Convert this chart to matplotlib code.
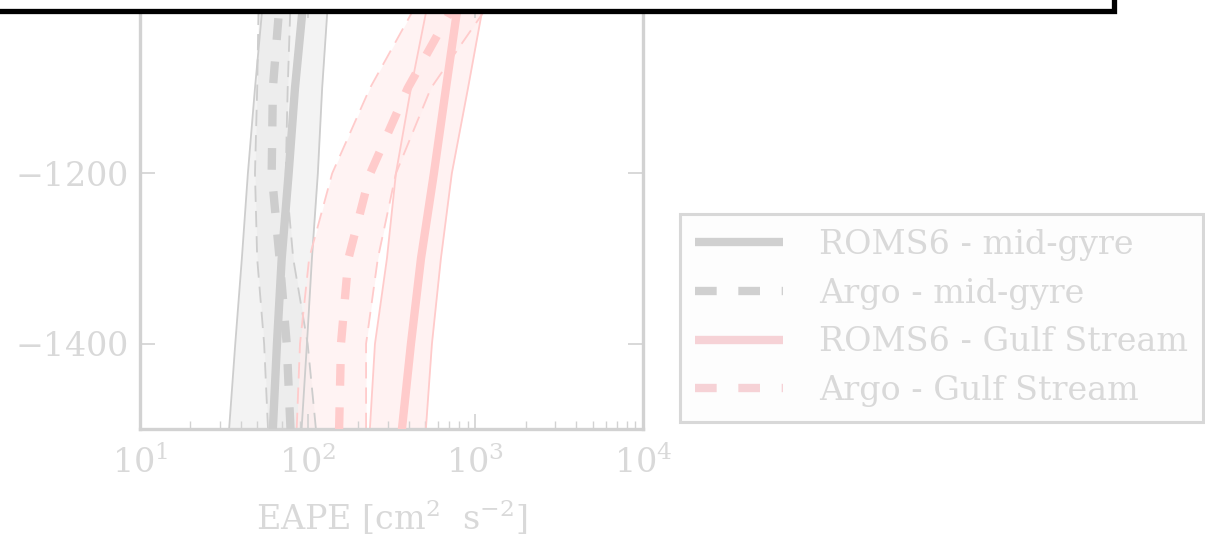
import numpy as np
import matplotlib
matplotlib.use("Agg")
import matplotlib.pyplot as plt
from matplotlib.patches import Rectangle

plt.rcParams['font.family'] = ['DejaVu Serif']
plt.rcParams['mathtext.fontset'] = 'dejavuserif'

# depth levels [m]
depth = [-1500, -1400, -1300, -1200, -1100, -1000]

# mid-gyre
roms_mg = [62, 65.6, 70, 77, 84, 94]
roms_mg_lo = [34, 37, 40.5, 44, 48.5, 54]
roms_mg_hi = [92, 99, 106, 115, 122, 132]
argo_mg = [79, 75, 68, 61, 62, 68]
argo_mg_lo = [58, 55, 50, 48.5, 50, 51]
argo_mg_hi = [112, 100, 82, 74, 76, 79]

# Gulf Stream
roms_gs = [365, 413, 474, 566, 668, 790]
roms_gs_lo = [235, 252, 297, 336, 413, 521]
roms_gs_hi = [507, 551, 623, 724, 904, 1120]
argo_gs = [154, 158, 175, 236, 395, 760]
argo_gs_lo = [86, 90, 102, 140, 235, 450]
argo_gs_hi = [223, 223, 262, 336, 543, 1220]

labels = ['ROMS6 - mid-gyre', 'Argo - mid-gyre',
          'ROMS6 - Gulf Stream', 'Argo - Gulf Stream']

txt = '#d9d9d9'
gray = '#cdcdcd'
pink = '#ffcbcb'
thin_dash = (0, (9, 5))
thick_dash = (0, (2.6, 2.6))

fig = plt.figure(figsize=(12.05, 5.37), dpi=100)
ax = fig.add_axes([140/1205, 1 - 429/537, 503/1205, 426/537])

# fills
ax.fill_betweenx(depth, roms_mg_lo, roms_mg_hi, color='#f3f3f3', lw=0, zorder=1)
ax.fill_betweenx(depth, argo_mg_lo, argo_mg_hi, color='#e9e9e9', alpha=0.6, lw=0, zorder=1)
ax.fill_betweenx(depth, roms_gs_lo, roms_gs_hi, color='#fff2f2', lw=0, zorder=1)
ax.fill_betweenx(depth, argo_gs_lo, argo_gs_hi, color='#ffeeee', alpha=0.7, lw=0, zorder=1)

# bounds
for lo, hi, c, ls in [(roms_mg_lo, roms_mg_hi, gray, '-'),
                      (argo_mg_lo, argo_mg_hi, gray, thin_dash),
                      (roms_gs_lo, roms_gs_hi, pink, '-'),
                      (argo_gs_lo, argo_gs_hi, pink, thin_dash)]:
    ax.plot(lo, depth, color=c, lw=1.3, ls=ls, zorder=2)
    ax.plot(hi, depth, color=c, lw=1.3, ls=ls, zorder=2)

# means
l1, = ax.plot(roms_mg, depth, color=gray, lw=6, zorder=3)
l2, = ax.plot(argo_mg, depth, color=gray, lw=6, ls=thick_dash, zorder=3)
l3, = ax.plot(roms_gs, depth, color=pink, lw=6, zorder=3)
l4, = ax.plot(argo_gs, depth, color=pink, lw=6, ls=thick_dash, zorder=3)

ax.set_xscale('log')
ax.set_xlim(10, 1e4)
ax.set_ylim(-1500, -1000)
ax.set_yticks([-1400, -1200])
ax.set_yticklabels([r'$-1400$', r'$-1200$'])
ax.set_xticks([10, 100, 1000, 10000])
ax.set_xticklabels([r'$10^{1}$', r'$10^{2}$', r'$10^{3}$', r'$10^{4}$'])

for s in ax.spines.values():
    s.set_color('#d2d2d2')
    s.set_linewidth(2.4)
ax.tick_params(which='both', direction='in', top=True, right=True,
               colors='#d2d2d2', labelcolor=txt, labelsize=24)
ax.tick_params(which='major', length=11, width=1.2, pad=9)
ax.tick_params(axis='x', which='major', pad=12)
ax.tick_params(which='minor', length=5.5, width=1.0)
ax.set_xlabel(r'EAPE [cm$^2$  s$^{-2}$]', fontsize=24, color=txt, labelpad=13)

leg = fig.legend([l1, l2, l3, l4], labels, loc='upper left',
                 bbox_to_anchor=(680/1205, 1 - 214/537), bbox_transform=fig.transFigure,
                 fontsize=24, frameon=True, fancybox=False, framealpha=1,
                 handlelength=2.65, handletextpad=1.08, labelspacing=0.5,
                 borderpad=0.45, borderaxespad=0)
leg.get_frame().set_edgecolor('#d8d8d8')
leg.get_frame().set_facecolor('#fdfdfd')
leg.get_frame().set_linewidth(2.2)
for t in leg.get_texts():
    t.set_color(txt)
for i, line in enumerate(leg.get_lines()):
    line.set_color('#d0d0d0' if i < 2 else '#f6d2d6')
    line.set_solid_capstyle('butt')
    line.set_dash_capstyle('butt')

# clipped title box at the top
fig.patches.append(Rectangle((-0.02, 1 - 10.8/537), 1113.7/1205 + 0.02, 0.1,
                             transform=fig.transFigure, facecolor='white',
                             edgecolor='black', lw=3.8, zorder=10))

fig.savefig('out.png', dpi=100)
